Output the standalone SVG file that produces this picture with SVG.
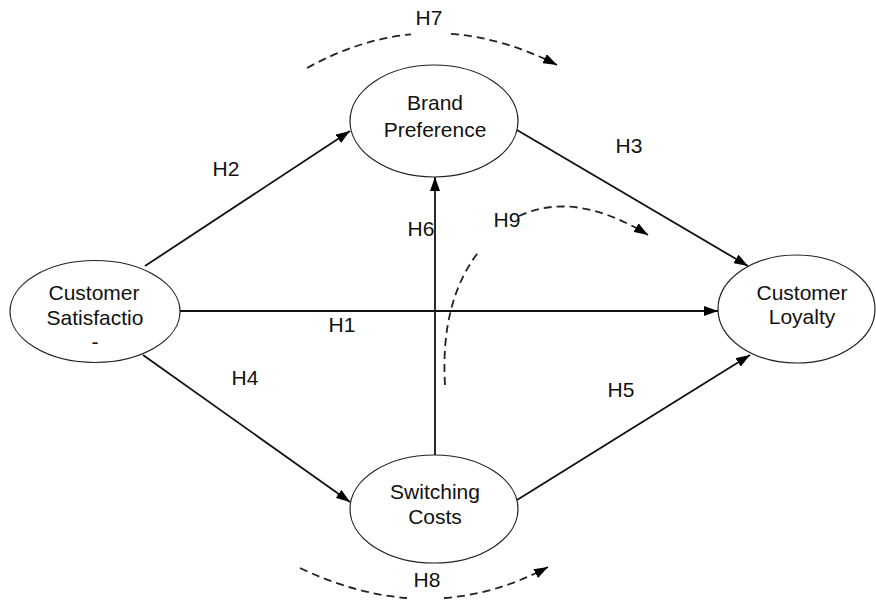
<svg xmlns="http://www.w3.org/2000/svg" width="876" height="604" viewBox="0 0 876 604">
<style>
text{font-family:"Liberation Sans",Arial,sans-serif;font-size:21px;fill:#111;text-anchor:middle}
.node ellipse{fill:#fff;stroke:#222;stroke-width:1.2}
.edge{fill:none;stroke:#111;stroke-width:1.8}
.dash{fill:none;stroke:#222;stroke-width:1.8;stroke-dasharray:8 5}
</style>
<defs>
<marker id="arr" viewBox="0 0 14 10" refX="14" refY="5" markerWidth="14" markerHeight="10" markerUnits="userSpaceOnUse" orient="auto">
<path d="M0,0 L14,5 L0,10 z" fill="#000"/>
</marker>
</defs>
<g id="connectors">
<line class="edge" x1="180" y1="311" x2="718" y2="311" marker-end="url(#arr)"/>
<line class="edge" x1="145" y1="266" x2="350" y2="131" marker-end="url(#arr)"/>
<line class="edge" x1="143" y1="355" x2="350" y2="502" marker-end="url(#arr)"/>
<line class="edge" x1="517" y1="130" x2="748" y2="266" marker-end="url(#arr)"/>
<line class="edge" x1="517" y1="500" x2="750" y2="355" marker-end="url(#arr)"/>
<line class="edge" x1="435" y1="455" x2="435" y2="177" marker-end="url(#arr)"/>
<path class="dash" d="M307,68 Q358.7,39.4 411,34.3"/>
<path class="dash" d="M451,33.9 Q503.7,37.7 557,65" marker-end="url(#arr)"/>
<path class="dash" d="M300,568 Q354.6,594 407,598"/>
<path class="dash" d="M444,598 Q497.3,594.1 548,567" marker-end="url(#arr)"/>
<path class="dash" d="M445,385 Q440,300 480,250"/>
<path class="dash" d="M519,216 Q575,190 648,235" marker-end="url(#arr)"/>
<text x="342" y="332">H1</text>
<text x="226" y="176">H2</text>
<text x="629" y="153">H3</text>
<text x="245" y="385">H4</text>
<text x="621" y="397">H5</text>
<text x="421" y="236">H6</text>
<text x="429" y="25">H7</text>
<text x="427" y="587">H8</text>
<text x="507" y="227">H9</text>
</g>
<g id="customer-satisfaction" class="node">
<ellipse cx="95" cy="311.5" rx="85" ry="51"/>
<text x="94" y="300">Customer</text>
<text x="95" y="325">Satisfactio</text>
<text x="95" y="349">-</text>
</g>
<g id="brand-preference" class="node">
<ellipse cx="434" cy="121" rx="84" ry="56"/>
<text x="435" y="110">Brand</text>
<text x="435" y="137">Preference</text>
</g>
<g id="switching-costs" class="node">
<ellipse cx="434" cy="509" rx="84" ry="54"/>
<text x="435" y="499">Switching</text>
<text x="435" y="524">Costs</text>
</g>
<g id="customer-loyalty" class="node">
<ellipse cx="796.5" cy="309" rx="78.5" ry="54"/>
<text x="802" y="300">Customer</text>
<text x="802" y="324">Loyalty</text>
</g>
</svg>
